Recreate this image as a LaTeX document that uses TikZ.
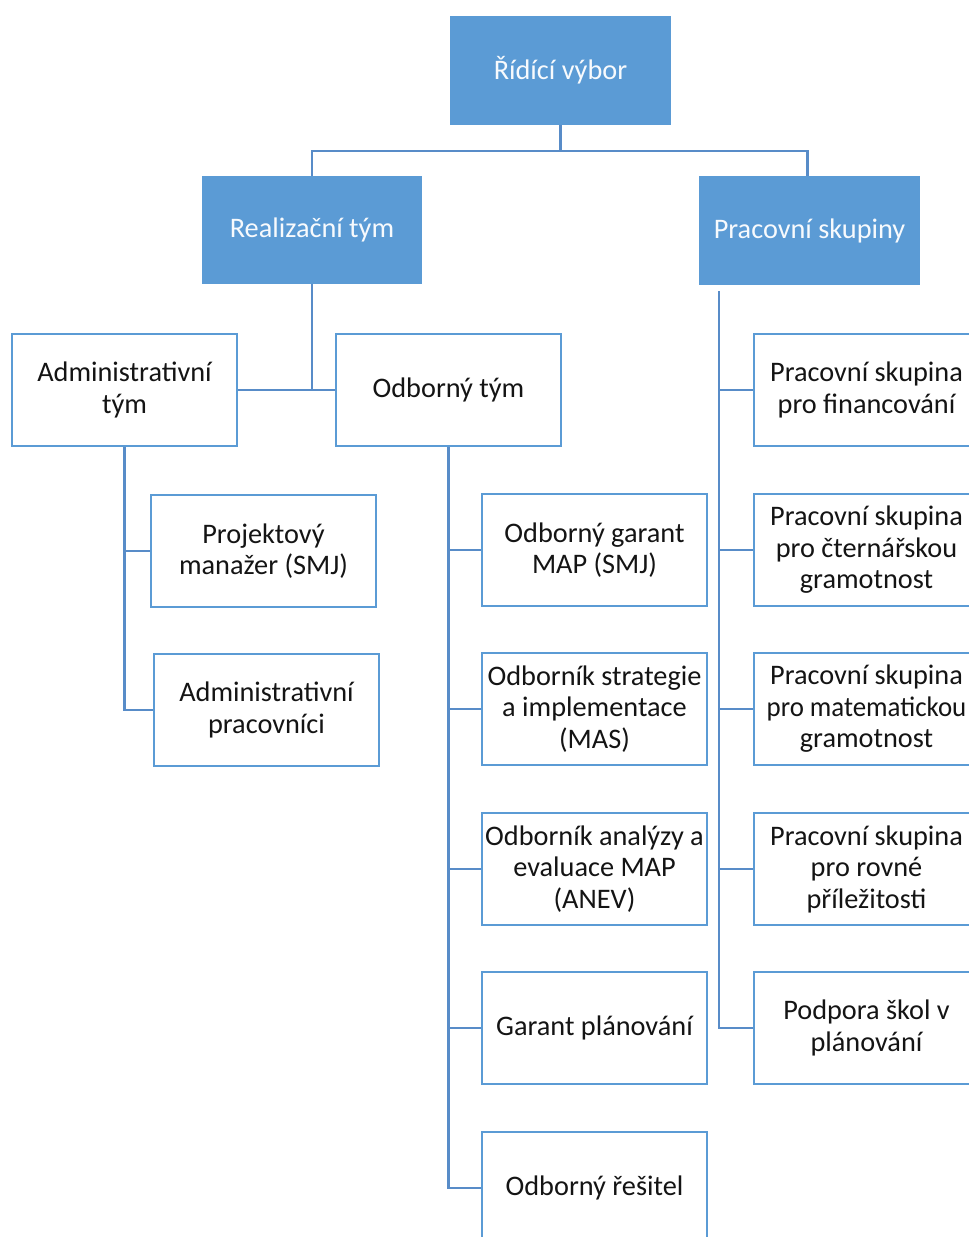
\documentclass[tikz,border=0pt]{standalone}
\usepackage{fontspec}
\setmainfont{Carlito}
\definecolor{boxblue}{RGB}{91,155,213}
\definecolor{linecol}{RGB}{88,140,200}
\definecolor{txt}{RGB}{20,20,20}
\tikzset{
  head/.style={fill=boxblue, draw=boxblue, line width=1pt, text=white!95!boxblue, anchor=north west,
    minimum width=220pt, minimum height=108pt, inner sep=0pt, align=center,
    font=\fontsize{28.3}{31.5}\selectfont},
  wbox/.style={fill=white, draw=boxblue, line width=2pt, text=txt, anchor=north west,
    minimum width=225pt, minimum height=112pt, inner sep=0pt, align=center,
    font=\fontsize{28.3}{31.5}\selectfont},
  conn/.style={draw=linecol, line width=2.5pt}
}
\begin{document}
\begin{tikzpicture}[x=1pt,y=-1pt]
\useasboundingbox (0,0) rectangle (969,1237);
\clip (0,0) rectangle (969,1237);
\fill[white] (0,0) rectangle (969,1237);
% heads
\node[head] (rid) at (450,16) {Řídící výbor};
\node[head, minimum width=219pt, minimum height=107pt] (real) at (202,176) {Realizační tým};
\node[head] (prac) at (699,176) {Pracovní skupiny};
% second level
\node[wbox] (adm) at (11,333) {Administrativní\\tým};
\node[wbox] (odb) at (335,333) {Odborný tým};
% admin children
\node[wbox] (pm) at (150,494) {Projektový\\manažer (SMJ)};
\node[wbox] (ap) at (153,653) {Administrativní\\pracovníci};
% odborny children
\node[wbox] (o1) at (481,493) {Odborný garant\\MAP (SMJ)};
\node[wbox] (o2) at (481,652) {Odborník strategie\\a implementace\\(MAS)};
\node[wbox] (o3) at (481,812) {Odborník analýzy a\\evaluace MAP\\(ANEV)};
\node[wbox] (o4) at (481,971) {Garant plánování};
\node[wbox] (o5) at (481,1131) {Odborný řešitel};
% pracovni children
\node[wbox] (p1) at (753,333) {Pracovní skupina\\pro financování};
\node[wbox] (p2) at (753,493) {Pracovní skupina\\pro čternářskou\\gramotnost};
\node[wbox] (p3) at (753,652) {Pracovní skupina\\\scalebox{0.95}[1]{pro matematickou}\\gramotnost};
\node[wbox] (p4) at (753,812) {Pracovní skupina\\pro rovné\\příležitosti};
\node[wbox] (p5) at (753,971) {Podpora škol v\\plánování};
% connectors
\draw[conn] (rid.south) -- ++(0,26) -| (real.north);
\draw[conn] (rid.south) -- ++(0,26) -| ([xshift=-2pt]prac.north);
\draw[conn] (real.south) -- (real.south |- adm.east);
\draw[conn] (adm.east) -- (odb.west);
\draw[conn] (adm.south) |- (pm.west);
\draw[conn] (adm.south) |- (ap.west);
\foreach \n in {o1,o2,o3,o4,o5}{\draw[conn] (odb.south) |- (\n.west);}
\coordinate (ps) at ([xshift=20pt,yshift=-6pt]prac.south west);
\foreach \n in {p1,p2,p3,p4,p5}{\draw[conn] (ps) |- (\n.west);}
\end{tikzpicture}
\end{document}
